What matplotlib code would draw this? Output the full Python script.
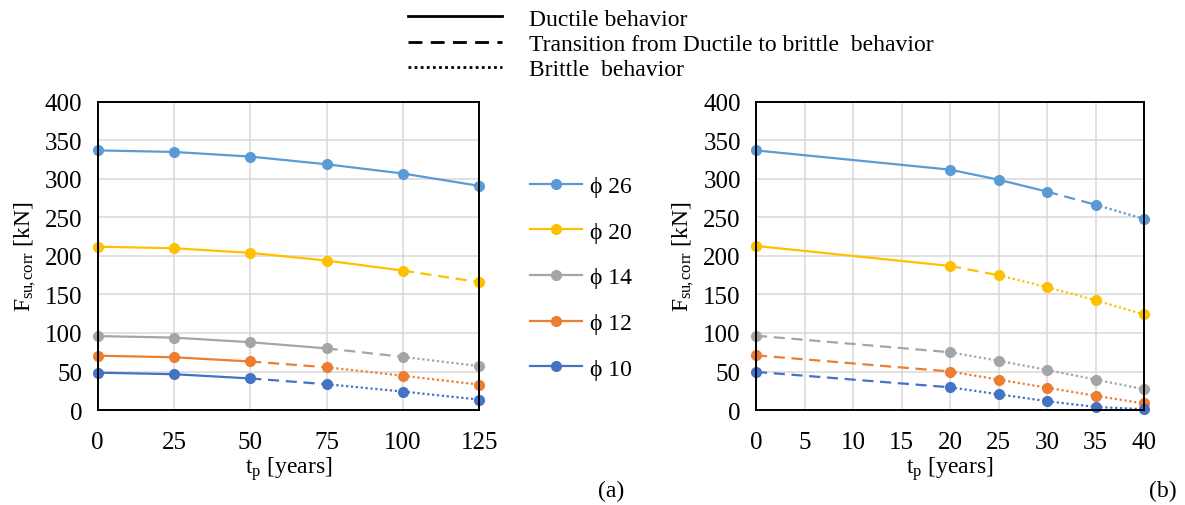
import matplotlib
matplotlib.use("Agg")
import matplotlib.pyplot as plt
from matplotlib.lines import Line2D

plt.rcParams['font.family'] = ['Liberation Serif', 'DejaVu Serif']
plt.rcParams['mathtext.fontset'] = 'custom'
plt.rcParams['mathtext.rm'] = 'Liberation Serif'
plt.rcParams['mathtext.it'] = 'Liberation Serif:italic'

series_names = ["\u03d5 26", "\u03d5 20", "\u03d5 14", "\u03d5 12", "\u03d5 10"]
colors = ["#5B9BD5", "#FFC000", "#A5A5A5", "#ED7D31", "#4472C4"]

# Panel (a)
tp_a = [0, 25, 50, 75, 100, 125]
vals_a = [
    [337, 335, 329, 319, 307, 291],
    [212, 210, 204, 194, 181, 166],
    [96, 94, 88, 80, 69, 57],
    [70.5, 68.5, 63, 55.5, 44.5, 33],
    [48.5, 46.5, 41, 33.5, 24, 13.5],
]
# segment behaviour: D=ductile, T=transition, B=brittle
beh_a = [
    ["D", "D", "D", "D", "D"],
    ["D", "D", "D", "D", "T"],
    ["D", "D", "D", "T", "B"],
    ["D", "D", "T", "B", "B"],
    ["D", "D", "T", "B", "B"],
]

# Panel (b)
tp_b = [0, 20, 25, 30, 35, 40]
vals_b = [
    [337, 312, 299, 283.5, 266.5, 248],
    [213, 187, 175, 159.5, 142.5, 124],
    [96.5, 75, 64, 52, 39.5, 27],
    [71, 50, 39.5, 29, 18.5, 8.5],
    [49.5, 29.5, 20.5, 11.5, 4, 1],
]
beh_b = [
    ["D", "D", "D", "T", "B"],
    ["D", "T", "B", "B", "B"],
    ["T", "B", "B", "B", "B"],
    ["T", "B", "B", "B", "B"],
    ["T", "B", "B", "B", "B"],
]

behaviour_labels = ["Ductile behavior",
                    "Transition from Ductile to brittle  behavior",
                    "Brittle  behavior"]

styles = {"D": "-", "T": (0, (5, 3)), "B": (0, (1, 1.2))}

FS = 17
TFS = 18

fig = plt.figure(figsize=(11.85, 5.06), dpi=100)
ax1 = fig.add_axes([0.0824, 0.1877, 0.322, 0.609])
ax2 = fig.add_axes([0.638, 0.1877, 0.3274, 0.609])


def draw(ax, xs, vals, behs, xticks):
    for c in range(len(vals)):
        ys = vals[c]
        for i in range(len(xs) - 1):
            ax.plot(xs[i:i + 2], ys[i:i + 2], color=colors[c], lw=1.6,
                    linestyle=styles[behs[c][i]], zorder=3, clip_on=False)
        ax.plot(xs, ys, linestyle='none', marker='o', ms=7,
                color=colors[c], zorder=4, clip_on=False)
    ax.set_ylim(0, 400)
    ax.set_xlim(xticks[0], xticks[-1])
    ax.set_yticks(range(0, 401, 50))
    ax.set_xticks(xticks)
    ax.grid(True, color="#D9D9D9", lw=1.1, zorder=0)
    ax.set_axisbelow(True)
    ax.tick_params(axis='x', length=0, labelsize=TFS, pad=15)
    ax.tick_params(axis='y', length=0, labelsize=TFS, pad=11)
    for s in ax.spines.values():
        s.set_linewidth(1.4)
        s.set_color("black")
        s.set_zorder(5)
    ax.set_ylabel(r"$\mathregular{F_{su\!,corr}}$ [kN]", fontsize=FS, labelpad=5)
    ax.set_xlabel(r"$\mathregular{t_p}$ [years]", fontsize=FS, labelpad=1)


draw(ax1, tp_a, vals_a, beh_a, list(range(0, 126, 25)))
draw(ax2, tp_b, vals_b, beh_b, list(range(0, 41, 5)))

fig.text(0.516, 0.018, "(a)", fontsize=FS, ha="center")
fig.text(0.981, 0.018, "(b)", fontsize=FS, ha="center")

# series legend
handles = [Line2D([], [], color=colors[c], lw=1.6, marker='o', ms=7)
           for c in range(len(series_names))]
fig.legend(handles, series_names, loc="center left",
           bbox_to_anchor=(0.4473, 0.4495), frameon=False, fontsize=FS,
           handlelength=2.2, handletextpad=0.34, labelspacing=1.02,
           borderpad=0, borderaxespad=0)

# behaviour legend
bh = [Line2D([], [], color="black", lw=2, linestyle=styles[k]) for k in ["D", "T", "B"]]
fig.legend(bh, behaviour_labels, loc="upper left",
           bbox_to_anchor=(0.3443, 0.982), frameon=False, fontsize=FS,
           handlelength=4.0, handletextpad=1.14, labelspacing=0.16,
           borderpad=0, borderaxespad=0)

fig.savefig("out.png", dpi=100)
